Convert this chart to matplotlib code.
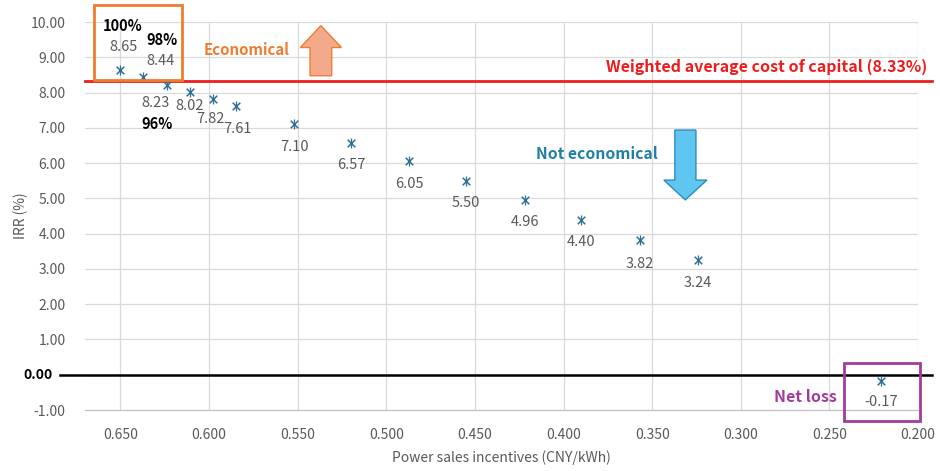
import matplotlib
matplotlib.use("Agg")
import matplotlib.pyplot as plt
from matplotlib.patches import Rectangle, Polygon

plt.rcParams['font.family'] = ['Noto Sans CJK KR', 'DejaVu Sans']

# data
incentive = [0.650, 0.637, 0.624, 0.611, 0.598, 0.585, 0.552, 0.520,
             0.487, 0.455, 0.422, 0.390, 0.357, 0.324, 0.221]
irr = [8.65, 8.44, 8.23, 8.02, 7.82, 7.61, 7.10, 6.57,
       6.05, 5.50, 4.96, 4.40, 3.82, 3.24, -0.17]
wacc = 8.33
xticks = [0.650, 0.600, 0.550, 0.500, 0.450, 0.400, 0.350, 0.300, 0.250, 0.200]
yticks = [-1, 0, 1, 2, 3, 4, 5, 6, 7, 8, 9, 10]

grey = '#595959'
fig = plt.figure(figsize=(9.4, 4.71), dpi=100)
ax = fig.add_axes([0.0904, 0.1295, 0.8862, 0.8235])

ax.set_xlim(0.670, 0.200)
ax.set_ylim(-1, 10)
ax.set_xticks(xticks)
ax.set_xticklabels(['%.3f' % v for v in xticks], color=grey, fontsize=10)
ax.set_yticks(yticks)
ax.set_yticklabels(['' if v == 0 else '%.2f' % v for v in yticks], color=grey, fontsize=10)
ax.tick_params(length=0)
ax.tick_params(axis='y', pad=14)
ax.tick_params(axis='x', pad=13)
# the zero label sits further left, in bold black
ax.text(-0.0384, 0, '0.00', transform=ax.get_yaxis_transform(), ha='right', va='center',
        fontsize=10, fontweight='bold', color='black')
ax.grid(True, color='#d9d9d9', lw=0.9)
ax.set_axisbelow(True)
for s in ['top', 'right', 'left']:
    ax.spines[s].set_visible(False)
ax.spines['bottom'].set_color('#bfbfbf')
ax.set_xlabel('Power sales incentives (CNY/kWh)', color=grey, fontsize=10, labelpad=6)
ax.set_ylabel('IRR (%)', color=grey, fontsize=10, labelpad=2)

# reference lines, stretched a bit past the plot area like the original
ax.plot([0.670, 0.192], [wacc, wacc], color='#ee1c1c', lw=2, clip_on=False, zorder=3)
ax.plot([0.684, 0.192], [0, 0], color='black', lw=1.8, clip_on=False, zorder=3)

mc = '#2f6f96'
ax.scatter(incentive, irr, marker='x', s=30, color=mc, lw=1.1, zorder=4)
ax.scatter(incentive, irr, marker='|', s=50, color=mc, lw=0.9, zorder=4)

# label offsets (points) as placed in the original
label_dy = [16.5, 11.5, -13, -10, -14.5, -16, -16, -16, -16, -16, -16, -16, -17, -16, -15]
label_dx = [2, 12, -8, 0, -1.5, 1.5, 0, 0, 0, 0, 0, 0, 0, 0, 0]
for x, y, dx, dy in zip(incentive, irr, label_dx, label_dy):
    ax.annotate('%.2f' % y, (x, y), xytext=(dx, dy), textcoords='offset points',
                ha='center', va='center', color=grey, fontsize=10.5)

ax.text(0.649, 9.89, '100%', ha='center', va='center', fontsize=10.5, fontweight='bold', color='black')
ax.text(0.6268, 9.49, '98%', ha='center', va='center', fontsize=10.5, fontweight='bold', color='black')
ax.text(0.6296, 7.11, '96%', ha='center', va='center', fontsize=10.5, fontweight='bold', color='black')

orange = '#ed7d31'
ax.add_patch(Rectangle((0.665, 8.36), -0.0495, 2.12, fill=False, ec=orange, lw=2, clip_on=False, zorder=5))
ax.text(0.5787, 9.21, 'Economical', ha='center', va='center', color=orange, fontsize=10.8, fontweight='bold')
up = [(0.5430, 8.48), (0.5430, 9.28), (0.5485, 9.28), (0.5369, 9.90),
      (0.5253, 9.28), (0.5308, 9.28), (0.5308, 8.48)]
ax.add_patch(Polygon(up, closed=True, fc='#f4aa8a', ec=orange, lw=1, zorder=5))

ax.text(0.195, 8.72, 'Weighted average cost of capital (8.33%)', ha='right', va='center',
        color='#ee1c1c', fontsize=11.5, fontweight='bold', clip_on=False)

ax.text(0.3812, 6.26, 'Not economical', ha='center', va='center', color='#217fa6',
        fontsize=11.3, fontweight='bold')
down = [(0.3372, 6.94), (0.3372, 5.52), (0.3434, 5.52), (0.3313, 4.96),
        (0.3191, 5.52), (0.3253, 5.52), (0.3253, 6.94)]
ax.add_patch(Polygon(down, closed=True, fc='#5ec6ef', ec='#2e8bc0', lw=1, zorder=5))

purple = '#a03c9c'
ax.add_patch(Rectangle((0.2416, -1.30), -0.0425, 1.64, fill=False, ec=purple, lw=2, clip_on=False, zorder=5))
ax.text(0.246, -0.62, 'Net loss', ha='right', va='center', color=purple, fontsize=11.5, fontweight='bold')

fig.savefig('out.png', dpi=100)
